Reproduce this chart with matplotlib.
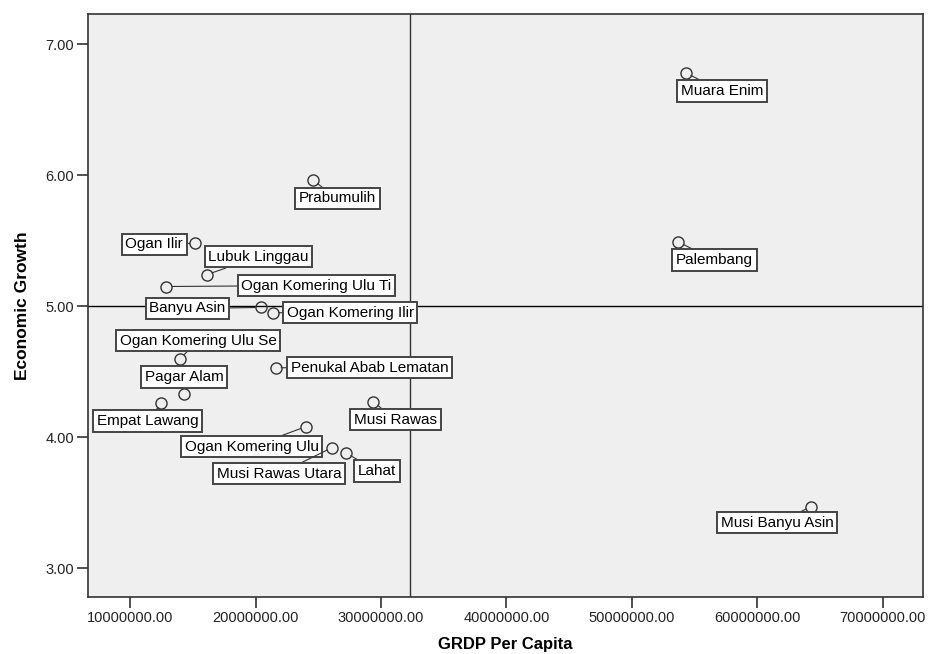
import matplotlib.pyplot as plt
from matplotlib.ticker import FormatStrFormatter

# regencies / cities of South Sumatra
names = ["Muara Enim", "Palembang", "Musi Banyu Asin", "Prabumulih", "Ogan Ilir",
         "Lubuk Linggau", "Ogan Komering Ulu Ti", "Banyu Asin", "Ogan Komering Ilir",
         "Ogan Komering Ulu Se", "Penukal Abab Lematan", "Pagar Alam", "Empat Lawang",
         "Musi Rawas", "Ogan Komering Ulu", "Musi Rawas Utara", "Lahat"]
grdp = [54300000, 53700000, 64300000, 24600000, 15200000,
        16100000, 12900000, 20400000, 21400000,
        14000000, 21600000, 14300000, 12500000,
        29400000, 24000000, 26100000, 27200000]
growth = [6.78, 5.49, 3.47, 5.96, 5.48,
          5.24, 5.15, 4.99, 4.95,
          4.60, 4.53, 4.33, 4.26,
          4.27, 4.08, 3.92, 3.88]

# reference lines (mean GRDP, growth 5.00)
grdp_ref = 32300000
growth_ref = 5.0

xticks = [10000000, 20000000, 30000000, 40000000, 50000000, 60000000, 70000000]
yticks = [3, 4, 5, 6, 7]

# label offsets in pixels (layout only)
offsets = [(36, -18), (36, -18), (-34, -16), (24, -18), (-41, -1),
           (52, 18), (150, 1), (-73, -1), (77, 0),
           (18, 18), (94, 0), (0, 17), (-14, -18),
           (22, -18), (-54, -20), (-53, -26), (31, -18)]

plt.rcParams['font.family'] = ['Liberation Sans', 'DejaVu Sans']

fig = plt.figure(figsize=(9.3, 6.54), dpi=100)
ax = fig.add_axes([88/930, 1-597/654, (923-88)/930, (597-14)/654])
ax.set_facecolor('#efefef')

ax.axvline(grdp_ref, color='#333333', lw=1, zorder=1)
ax.axhline(growth_ref, color='black', lw=1, zorder=1)

ax.plot(grdp, growth, 'o', markerfacecolor='none', markeredgecolor='#333333',
        markersize=8, markeredgewidth=1, zorder=3)

for n, x, y, off in zip(names, grdp, growth, offsets):
    ax.annotate(n, (x, y), xytext=off, textcoords='offset pixels',
                ha='center', va='center', fontsize=11, zorder=4,
                bbox=dict(boxstyle='square,pad=0.24', fc='white', ec='#444444', lw=1.4),
                arrowprops=dict(arrowstyle='-', color='#333333', lw=0.8,
                                shrinkA=0, shrinkB=4))

ax.set_xlim(6650000, 73200000)
ax.set_ylim(2.78, 7.23)
ax.set_xticks(xticks)
ax.set_yticks(yticks)
ax.xaxis.set_major_formatter(FormatStrFormatter('%.2f'))
ax.yaxis.set_major_formatter(FormatStrFormatter('%.2f'))
ax.tick_params(direction='out', length=8, width=1.2, pad=2, labelsize=10.5,
               colors='#333333', labelcolor='#222222')
for s in ax.spines.values():
    s.set_color('#333333')
    s.set_linewidth(1.2)

ax.set_xlabel('GRDP Per Capita', fontsize=12, fontweight='bold', va='center')
ax.xaxis.set_label_coords(0.5, -48/583)
ax.set_ylabel('Economic Growth', fontsize=12.5, fontweight='bold', va='center')
ax.yaxis.set_label_coords(-65/835, 0.5)

fig.savefig('out.png', dpi=100)
